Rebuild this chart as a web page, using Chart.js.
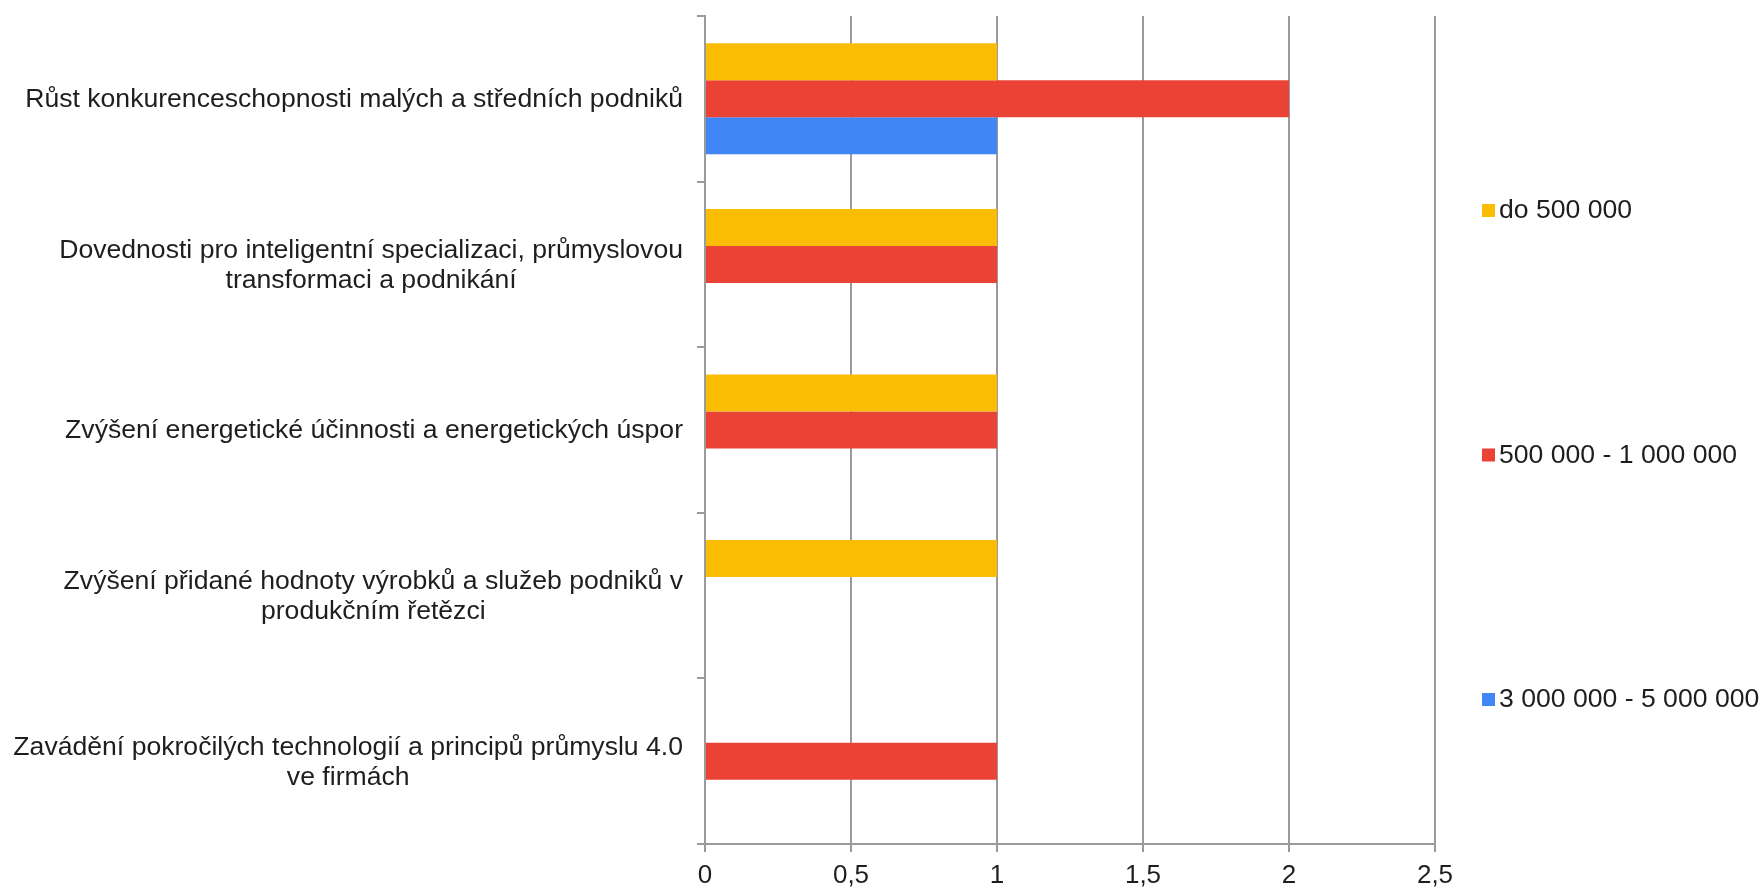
<!DOCTYPE html>
<html lang="cs">
<head>
<meta charset="utf-8">
<title>Oblasti podpory</title>
<script src="https://cdn.jsdelivr.net/npm/chart.js@4.4.1/dist/chart.umd.min.js"></script>
<style>
  html, body { margin: 0; padding: 0; background: #ffffff; }
  .chart-wrap { position: relative; width: 1763px; height: 888px; }
</style>
</head>
<body>
<div class="chart-wrap">
  <canvas id="chart"></canvas>
</div>
<script>
const categories = [
  ['Růst konkurenceschopnosti malých a středních podniků'],
  ['Dovednosti pro inteligentní specializaci, průmyslovou', 'transformaci a podnikání'],
  ['Zvýšení energetické účinnosti a energetických úspor'],
  ['Zvýšení přidané hodnoty výrobků a služeb podniků v', 'produkčním řetězci'],
  ['Zavádění pokročilých technologií a principů průmyslu 4.0', 've firmách'],
];
const seriesNames = ['do 500 000', '500 000 - 1 000 000', '3 000 000 - 5 000 000'];
const do500k = [1, 1, 1, 1, null];
const from500kTo1m = [2, 1, 1, null, 1];
const from3mTo5m = [1, null, null, null, null];
const xTicks = [0, 0.5, 1, 1.5, 2, 2.5];

const colors = ['#fbbc04', '#ea4335', '#4285f4'];
const lineColor = '#9a9a9a';
const textColor = '#1e1e1e';
const fontFamily = "'Liberation Sans', Arial, sans-serif";

// y labels: block right aligned to the axis, lines centred inside the block
const categoryLabels = {
  id: 'categoryLabels',
  afterDraw(chart) {
    const { ctx } = chart;
    const scale = chart.scales.y;
    const right = scale.right - 22;
    const lineHeight = 30;
    ctx.save();
    ctx.font = `26.6px ${fontFamily}`;
    ctx.fillStyle = textColor;
    ctx.textAlign = 'center';
    ctx.textBaseline = 'middle';
    categories.forEach((lines, i) => {
      const center = scale.getPixelForValue(i);
      const widest = Math.max(...lines.map((line) => ctx.measureText(line).width));
      const x = right - widest / 2;
      const top = center - ((lines.length - 1) * lineHeight) / 2 + 1;
      lines.forEach((line, j) => ctx.fillText(line, x, top + j * lineHeight));
    });
    ctx.restore();
  },
};

// legend spread down the right side
const sideLegend = {
  id: 'sideLegend',
  afterDraw(chart) {
    const { ctx } = chart;
    const x = chart.chartArea.right + 47;
    ctx.save();
    ctx.font = `26.6px ${fontFamily}`;
    ctx.textAlign = 'left';
    ctx.textBaseline = 'middle';
    chart.data.datasets.forEach((ds, i) => {
      const y = 210 + i * 244.5;
      ctx.fillStyle = ds.backgroundColor;
      ctx.fillRect(x, y - 6, 13, 13);
      ctx.fillStyle = textColor;
      ctx.fillText(ds.label, x + 17, y + 1);
    });
    ctx.restore();
  },
};

const seriesValues = [do500k, from500kTo1m, from3mTo5m];

new Chart(document.getElementById('chart'), {
  type: 'bar',
  data: {
    labels: categories.map((lines) => lines.join(' ')),
    datasets: seriesValues.map((values, i) => ({
      label: seriesNames[i],
      data: values,
      backgroundColor: colors[i],
      borderWidth: 0,
      categoryPercentage: 0.67,
      barPercentage: 1,
    })),
  },
  options: {
    indexAxis: 'y',
    responsive: true,
    maintainAspectRatio: false,
    animation: false,
    layout: { padding: { top: 16, right: 328, bottom: 0, left: 0 } },
    plugins: {
      legend: { display: false },
      tooltip: { enabled: false },
    },
    scales: {
      x: {
        min: 0,
        max: 2.5,
        afterBuildTicks: (axis) => {
          axis.ticks = xTicks.map((value) => ({ value }));
        },
        afterFit: (axis) => {
          axis.height = 44;
        },
        grid: { color: lineColor, lineWidth: 2, tickLength: 8, drawTicks: true },
        border: { display: true, color: lineColor, width: 2 },
        ticks: {
          color: textColor,
          padding: 8,
          font: { family: fontFamily, size: 26 },
          callback: (value) => String(value).replace('.', ','),
        },
      },
      y: {
        afterFit: (axis) => {
          axis.width = 705;
        },
        grid: { drawOnChartArea: false, drawTicks: true, tickLength: 8, color: lineColor, lineWidth: 2 },
        border: { display: true, color: lineColor, width: 2 },
        ticks: { display: false },
      },
    },
  },
  plugins: [categoryLabels, sideLegend],
});
</script>
</body>
</html>
